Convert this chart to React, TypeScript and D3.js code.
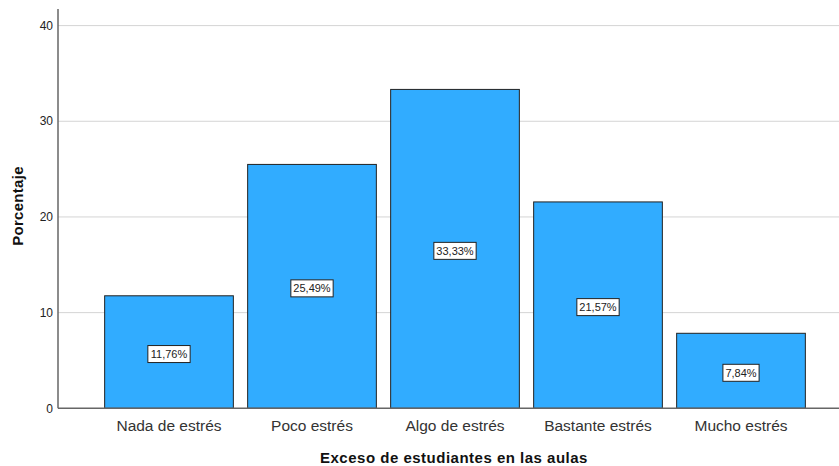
import React from "react";
import * as d3 from "d3";

const categories = ["Nada de estrés", "Poco estrés", "Algo de estrés", "Bastante estrés", "Mucho estrés"];
const values = [11.76, 25.49, 33.33, 21.57, 7.84];
const valueLabels = ["11,76%", "25,49%", "33,33%", "21,57%", "7,84%"];
const yTicks = [0, 10, 20, 30, 40];

const W = 839, H = 466;
const axisX = 58, axisTop = 9, axisRight = 839;
const y0 = 408.3;

function textWidth(s: string, size: number) {
  let w = 0;
  for (const ch of s) {
    if (ch === ",") w += 0.278;
    else if (ch === "%") w += 0.889;
    else w += 0.556;
  }
  return w * size;
}

export default function App() {
  const y = d3.scaleLinear().domain([0, 40]).range([y0, 25.6]);
  const x = d3.scaleBand<string>().domain(categories).range([97.5, 812.5]).paddingInner(0.1).paddingOuter(0.05);
  const font = "'Liberation Sans', Arial, sans-serif";
  return (
    <svg width={W} height={H} style={{ position: "absolute", left: 0, top: 0 }} fontFamily={font}>
      <rect width={W} height={H} fill="#fff" />
      {yTicks.filter((t) => t > 0).map((t) => (
        <line key={"g" + t} x1={axisX} x2={axisRight} y1={y(t)} y2={y(t)} stroke="#d4d4d4" strokeWidth={1} />
      ))}
      {categories.map((c, i) => (
        <rect key={c} x={x(c)!} y={y(values[i])} width={x.bandwidth()} height={y0 - y(values[i])} fill="#31acff" stroke="#222" strokeWidth={1} />
      ))}
      <line x1={axisX} x2={axisX} y1={axisTop} y2={y0} stroke="#666" strokeWidth={1.5} />
      <line x1={axisX} x2={axisRight} y1={y0} y2={y0} stroke="#666" strokeWidth={1.5} />
      {yTicks.map((t) => (
        <text key={"t" + t} x={axisX - 5} y={y(t)} dy="0.35em" textAnchor="end" fontSize={12} fill="#222">{t}</text>
      ))}
      {categories.map((c, i) => {
        const cx = x(c)! + x.bandwidth() / 2;
        const cy = (y0 + y(values[i])) / 2 + 2;
        const w = textWidth(valueLabels[i], 11) + 5;
        return (
          <g key={"l" + c}>
            <rect x={cx - w / 2} y={cy - 8.5} width={w} height={17} fill="#fff" stroke="#222" strokeWidth={1} />
            <text x={cx} y={cy} dy="0.36em" textAnchor="middle" fontSize={11} fill="#222">{valueLabels[i]}</text>
          </g>
        );
      })}
      {categories.map((c) => (
        <text key={"c" + c} x={x(c)! + x.bandwidth() / 2} y={430.5} textAnchor="middle" fontSize={15.5} fill="#333">{c}</text>
      ))}
      <text x={454} y={463} textAnchor="middle" fontSize={15} fontWeight="bold" letterSpacing={0.5} fill="#111">Exceso de estudiantes en las aulas</text>
      <text transform={`translate(23,206) rotate(-90)`} textAnchor="middle" fontSize={15} fontWeight="bold" letterSpacing={0.3} fill="#111">Porcentaje</text>
    </svg>
  );
}
